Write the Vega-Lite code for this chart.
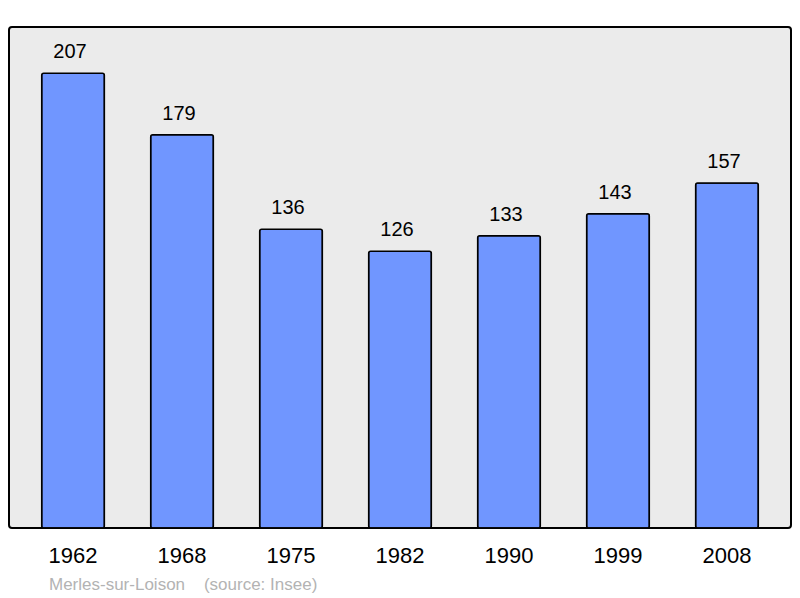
{
  "$schema": "https://vega.github.io/schema/vega-lite/v6.json",
  "width": 782,
  "height": 501,
  "autosize": {"type": "none"},
  "padding": {"left": 9, "top": 27, "right": 9, "bottom": 70},
  "background": "white",
  "data": {"values": [
    {"year": "1962", "pop": 207},
    {"year": "1968", "pop": 179},
    {"year": "1975", "pop": 136},
    {"year": "1982", "pop": 126},
    {"year": "1990", "pop": 133},
    {"year": "1999", "pop": 143},
    {"year": "2008", "pop": 157}
  ]},
  "title": {
    "text": "Merles-sur-Loison\u00a0\u00a0\u00a0\u00a0(source: Insee)",
    "orient": "bottom",
    "anchor": "start",
    "dx": 40,
    "offset": 11,
    "font": "Liberation Sans",
    "fontSize": 17,
    "fontWeight": "normal",
    "color": "#b3b3b3"
  },
  "encoding": {
    "x": {
      "field": "year", "type": "ordinal",
      "scale": {"paddingInner": 0.425, "paddingOuter": 0.3},
      "axis": {"title": null, "domain": false, "ticks": false, "labelAngle": 0, "labelFont": "Liberation Sans", "labelFontSize": 22, "labelColor": "#000000", "labelPadding": 17}
    },
    "y": {
      "field": "pop", "type": "quantitative",
      "scale": {"domain": [0, 228], "nice": false},
      "axis": null
    }
  },
  "layer": [
    {"mark": {"type": "bar", "fill": "#7096ff", "stroke": "#000000", "strokeWidth": 1.5, "cornerRadius": 2}},
    {"mark": {"type": "text", "baseline": "bottom", "dy": -11, "dx": -3, "font": "Liberation Sans", "fontSize": 20, "color": "#000000"},
     "encoding": {"text": {"field": "pop", "type": "quantitative"}}}
  ],
  "config": {
    "view": {"fill": "#ebebeb", "stroke": "#000000", "strokeWidth": 2, "cornerRadius": 3}
  }
}
